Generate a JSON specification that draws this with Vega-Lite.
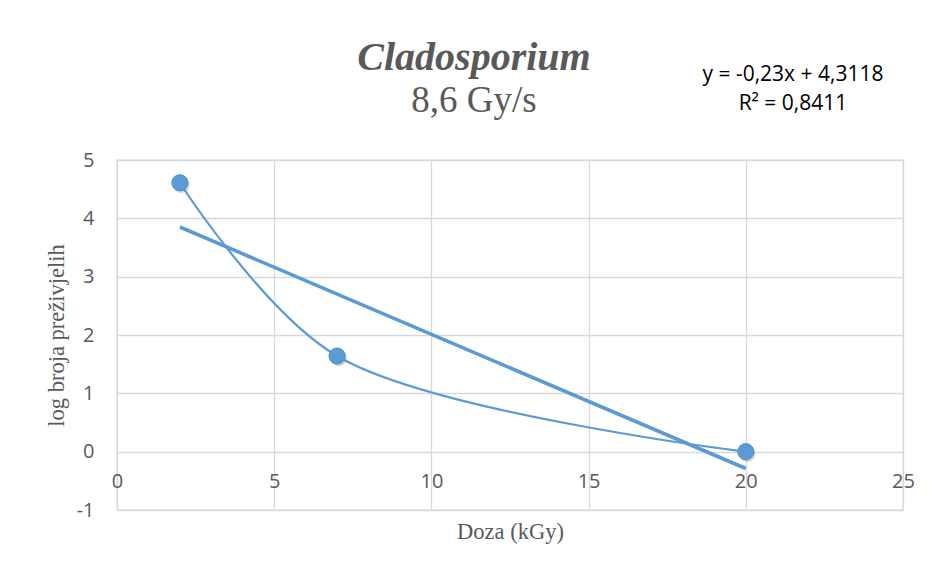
{
  "$schema": "https://vega.github.io/schema/vega-lite/v6.json",
  "autosize": {"type": "none"},
  "width": 786,
  "height": 350,
  "padding": {"left": 117, "top": 160, "right": 27, "bottom": 55},
  "background": "white",
  "datasets": {
    "points": [
      {"doza": 2, "log": 4.61},
      {"doza": 7, "log": 1.64},
      {"doza": 20, "log": 0.0}
    ],
    "trend": [
      {"doza": 2, "log": 3.8518},
      {"doza": 20, "log": -0.2882}
    ]
  },
  "title": {
    "text": "Cladosporium",
    "subtitle": "8,6 Gy/s",
    "font": "Liberation Serif",
    "fontSize": 40,
    "fontWeight": "bold",
    "fontStyle": "italic",
    "color": "#595959",
    "subtitleFont": "Liberation Serif",
    "subtitleFontSize": 37,
    "subtitleColor": "#595959",
    "subtitlePadding": 5,
    "anchor": "middle",
    "dx": -36,
    "offset": -55
  },
  "config": {
    "view": {"stroke": "#d9d9d9", "strokeWidth": 1.3},
    "axis": {
      "grid": true,
      "gridColor": "#d9d9d9",
      "gridWidth": 1.3,
      "ticks": false,
      "domain": false,
      "labelFont": "Open Sans",
      "labelFontSize": 20,
      "labelColor": "#595959",
      "labelFlush": false,
      "titleFont": "Liberation Serif",
      "titleFontSize": 22.5,
      "titleFontWeight": "normal",
      "titleColor": "#595959"
    }
  },
  "layer": [
    {
      "data": {"name": "points"},
      "mark": {"type": "line", "interpolate": "catmull-rom", "color": "#5B9BD5", "strokeWidth": 2.2},
      "encoding": {
        "x": {
          "field": "doza",
          "type": "quantitative",
          "scale": {"domain": [0, 25], "nice": false},
          "axis": {
            "title": "Doza (kGy)",
            "values": [0, 5, 10, 15, 20, 25],
            "offset": -58.3,
            "labelPadding": 20,
            "titleY": 87,
            "titleBaseline": "alphabetic"
          }
        },
        "y": {
          "field": "log",
          "type": "quantitative",
          "scale": {"domain": [-1, 5], "nice": false},
          "axis": {
            "title": "log broja preživjelih",
            "values": [-1, 0, 1, 2, 3, 4, 5],
            "labelExpr": "'' + datum.value",
            "labelPadding": 23,
            "titleAngle": -90,
            "titleBaseline": "middle",
            "titleAlign": "center",
            "titleX": -61,
            "titleY": 175
          }
        }
      }
    },
    {
      "data": {"name": "trend"},
      "mark": {"type": "line", "color": "#5B9BD5", "strokeWidth": 3.6},
      "encoding": {
        "x": {"field": "doza", "type": "quantitative"},
        "y": {"field": "log", "type": "quantitative"}
      }
    },
    {
      "data": {"name": "points"},
      "mark": {"type": "point", "filled": true, "shape": "circle", "size": 270, "color": "#7f7f7f", "opacity": 0.35, "xOffset": 1.5, "yOffset": 2},
      "encoding": {
        "x": {"field": "doza", "type": "quantitative"},
        "y": {"field": "log", "type": "quantitative"}
      }
    },
    {
      "data": {"name": "points"},
      "mark": {"type": "point", "filled": true, "shape": "circle", "size": 260, "color": "#5B9BD5", "opacity": 1, "stroke": "#4f8fcb", "strokeWidth": 1},
      "encoding": {
        "x": {"field": "doza", "type": "quantitative"},
        "y": {"field": "log", "type": "quantitative"}
      }
    },
    {
      "data": {"values": [{"label": "y = -0,23x + 4,3118\nR² = 0,8411"}]},
      "mark": {"type": "text", "font": "Open Sans", "fontSize": 21, "fill": "#000000", "align": "center", "baseline": "alphabetic", "lineBreak": "\n", "lineHeight": 29, "clip": false},
      "encoding": {
        "x": {"datum": 21.5},
        "y": {"datum": 6.36},
        "text": {"field": "label"}
      }
    }
  ]
}
